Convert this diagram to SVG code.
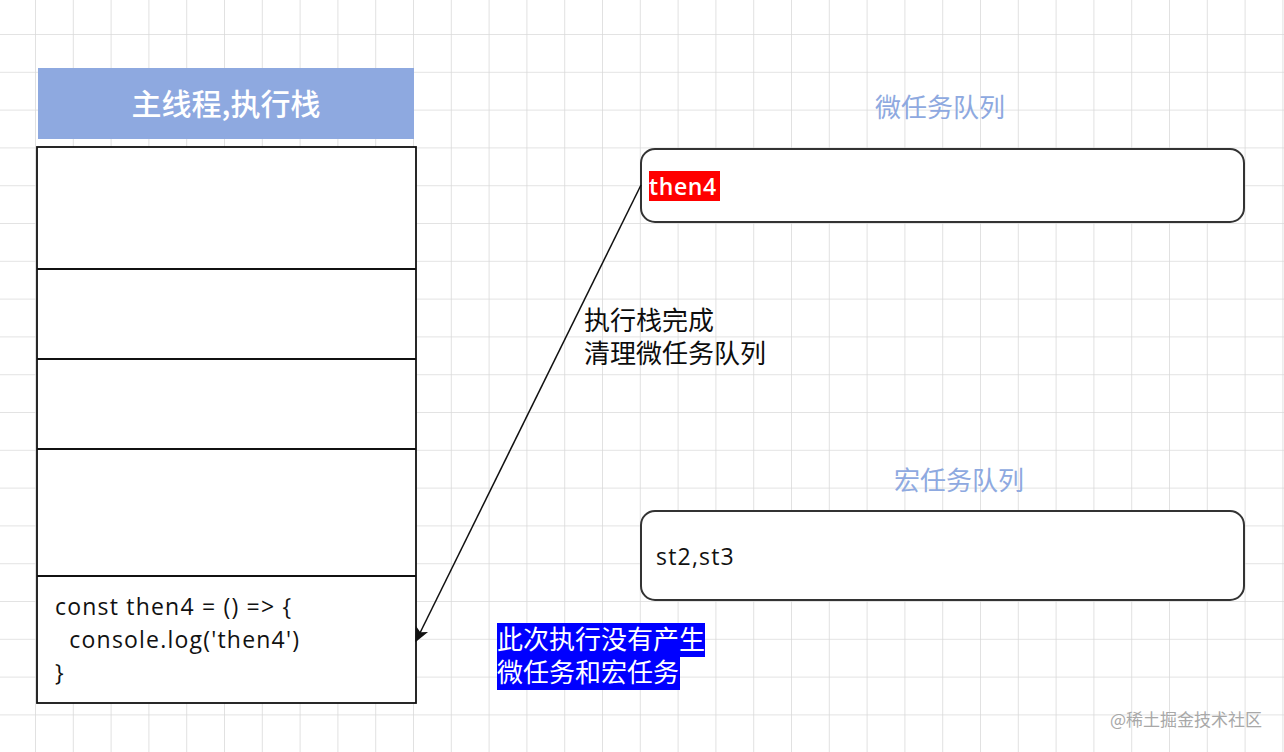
<svg xmlns="http://www.w3.org/2000/svg" width="1284" height="752" viewBox="0 0 1284 752">
<defs>
<pattern id="grid" x="-1.8" y="-2.8" width="37.8" height="37.8" patternUnits="userSpaceOnUse">
<path d="M37.8 0V37.8M0 37.8H37.8" fill="none" stroke="#dadada" stroke-width="1.6"/>
</pattern>
<marker id="arr" viewBox="0 0 10 10" refX="9" refY="5" markerWidth="15" markerHeight="15" markerUnits="userSpaceOnUse" orient="auto">
<path d="M0 0.5L10 5L0 9.5L2.5 5Z" fill="#111"/>
</marker>
<style>
.cjk{font-family:"Noto Sans CJK SC",sans-serif}
.lbl{font-size:26px;fill:#0d0d0d}
.blue{font-size:26px;fill:#8ea9e0}
.code{font-family:"Open Sans","Noto Sans CJK SC",sans-serif;font-size:23px;fill:#111;letter-spacing:1.2px}
.box{fill:#fff;stroke:#111;stroke-width:1.8}
.rbox{fill:#fff;stroke:#333;stroke-width:2}
</style>
</defs>
<rect width="1284" height="752" fill="#fff"/>
<rect width="1284" height="752" fill="url(#grid)"/>

<g id="stack-header">
<rect x="38" y="68" width="376" height="71" fill="#8ea9e0"/>
<text x="226" y="115" text-anchor="middle" class="cjk" font-size="30" font-weight="500" fill="#fff">主线程,执行栈</text>
</g>

<g id="stack">
<rect class="box" x="37" y="147" width="379" height="556"/>
<path d="M37 269H416M37 359H416M37 449H416M37 576H416" stroke="#111" stroke-width="1.8" fill="none"/>
</g>

<g id="code-frame">
<text class="code" xml:space="preserve"><tspan x="55" y="615">const then4 = () =&gt; {</tspan><tspan x="55" y="648">  console.log('then4')</tspan><tspan x="55" y="681">}</tspan></text>
</g>

<g id="micro-label">
<text x="940" y="117" text-anchor="middle" class="cjk blue">微任务队列</text>
</g>
<g id="micro-queue">
<rect class="rbox" x="641" y="149" width="603" height="73" rx="14"/>
<rect x="649" y="171" width="71" height="30" fill="#ff0000"/>
<text x="649" y="195" class="code" font-size="24" font-weight="600" style="fill:#fff;letter-spacing:0.6px">then4</text>
</g>

<g id="macro-label">
<text x="959" y="490" text-anchor="middle" class="cjk blue">宏任务队列</text>
</g>
<g id="macro-queue">
<rect class="rbox" x="641" y="511" width="603" height="89" rx="14"/>
<text x="656" y="565" class="code" font-size="25">st2,st3</text>
</g>

<g id="connectors">
<line x1="641" y1="185" x2="416" y2="641" stroke="#111" stroke-width="1.5" marker-end="url(#arr)"/>
</g>

<g id="edge-label">
<text class="cjk lbl"><tspan x="584" y="330">执行栈完成</tspan><tspan x="584" y="363">清理微任务队列</tspan></text>
</g>

<g id="note">
<rect x="497" y="623" width="208" height="34" fill="#0000ff"/>
<rect x="497" y="657" width="183" height="33" fill="#0000ff"/>
<text class="cjk" font-size="26" fill="#fff"><tspan x="497" y="649">此次执行没有产生</tspan><tspan x="497" y="682">微任务和宏任务</tspan></text>
</g>

<g id="watermark">
<text x="1262" y="726" text-anchor="end" class="cjk" font-size="17" fill="#a8a8a8">@稀土掘金技术社区</text>
</g>
</svg>
